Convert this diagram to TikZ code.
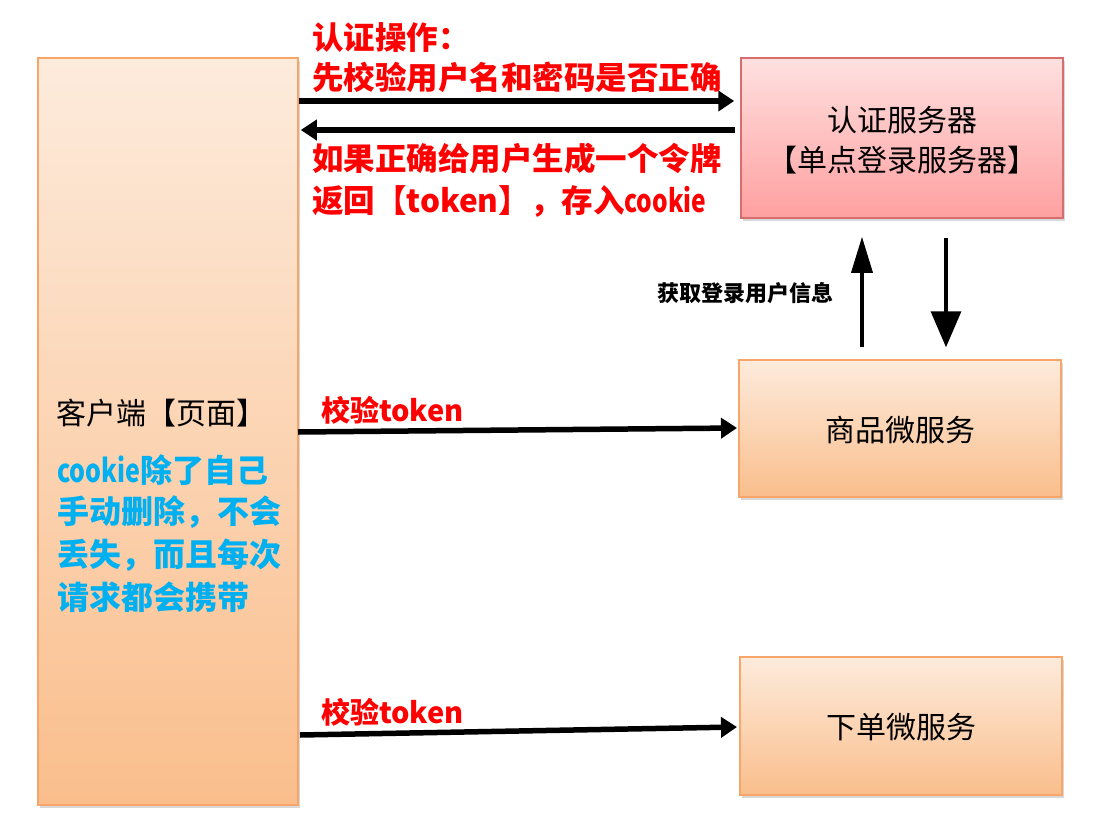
\documentclass[tikz,border=0pt]{standalone}
\usepackage{fontspec}
\usepackage{graphicx}
\setmainfont{Noto Sans CJK SC}
\newcommand\narrowtxt[1]{\scalebox{0.78}[1]{#1}}
\usetikzlibrary{arrows.meta,shadows}
\definecolor{obord}{RGB}{247,165,105}
\definecolor{otop}{RGB}{253,235,220}
\definecolor{obot}{RGB}{250,190,140}
\definecolor{pbord}{RGB}{215,110,110}
\definecolor{ptop}{RGB}{255,224,224}
\definecolor{pbot}{RGB}{255,160,160}
\definecolor{tred}{RGB}{255,0,0}
\definecolor{tblue}{RGB}{0,176,240}
\tikzset{
  shbox/.style={line width=1.5pt, inner sep=0pt,
    drop shadow={shadow xshift=2pt,shadow yshift=-3pt,opacity=0.3}},
  obox/.style={shbox, draw=obord, top color=otop, bottom color=obot},
  pbox/.style={shbox, draw=pbord, top color=ptop, bottom color=pbot},
  boxtxt/.style={font=\fontsize{30}{40}\selectfont, align=center, inner sep=0pt},
  redlbl/.style={font=\bfseries\fontsize{31.5}{31.5}\selectfont, text=tred, anchor=west, inner sep=0pt},
  bluelbl/.style={font=\bfseries\fontsize{32}{32}\selectfont, text=tblue, anchor=west, inner sep=0pt},
  harrow/.style={line width=5.5pt, -{Triangle[length=16pt,width=20pt]}},
  uparrow/.style={line width=3.5pt, -{Triangle[length=36pt,width=21pt]}},
  dnarrow/.style={line width=3.5pt, -{Triangle[length=36pt,width=30pt]}},
}
\begin{document}
\begin{tikzpicture}[x=1pt,y=-1pt]
\useasboundingbox[fill=white] (0,0) rectangle (1117,838);
% boxes
\node[obox, minimum width=260pt, minimum height=747pt] (client) at (168,431.5) {};
\node[pbox, minimum width=322pt, minimum height=160pt] (auth) at (902,138) {};
\node[obox, minimum width=322pt, minimum height=137pt] (prod) at (900,428.5) {};
\node[obox, minimum width=322pt, minimum height=138pt] (order) at (901,726) {};
% box texts
\node[boxtxt] (authtxt) at (902,140) {认证服务器\\【单点登录服务器】};
\node[boxtxt] (prodtxt) at (900,430) {商品微服务};
\node[boxtxt] (ordertxt) at (901,727) {下单微服务};
\node[font=\fontsize{30}{30}\selectfont, anchor=west, inner sep=0pt] (clienttxt) at (56,413) {客户端【页面】};
\node[bluelbl] (b1) at (57,470) {\narrowtxt{cookie}除了自己};
\node[bluelbl] (b2) at (57,512) {手动删除，不会};
\node[bluelbl] (b3) at (57,555) {丢失，而且每次};
\node[bluelbl] (b4) at (57,597) {请求都会携带};
% red labels
\node[redlbl] (r1) at (312,38) {认证操作：};
\node[redlbl] (r2) at (312,77) {先校验用户名和密码是否正确};
\node[redlbl] (r3) at (312,158) {如果正确给用户生成一个令牌};
\node[redlbl] (r4) at (312,201) {返回【token】，存入\narrowtxt{cookie}};
\node[redlbl, font=\bfseries\fontsize{29}{29}\selectfont] (r5) at (321,410) {校验token};
\node[redlbl, font=\bfseries\fontsize{29}{29}\selectfont] (r6) at (321,712) {校验token};
\node[font=\bfseries\fontsize{22}{22}\selectfont, anchor=west, inner sep=0pt] (info) at (657,293) {获取登录用户信息};
% coordinates
\coordinate (ya) at (0,101);
\coordinate (yb) at (0,130);
\coordinate (p1) at (298,432);
\coordinate (p2) at (737,428);
\coordinate (o1) at (300,735);
\coordinate (o2) at (737,727);
\coordinate (xu) at (862,0);
\coordinate (xd) at (946,0);
% connectors
\draw[harrow] (client.east |- ya) -- ([xshift=-6pt]auth.west |- ya);
\draw[harrow] ([xshift=-5pt]auth.west |- yb) -- ([xshift=2pt]client.east |- yb);
\draw[harrow] (p1) -- (p2);
\draw[harrow] (o1) -- (o2);
\draw[uparrow] ([yshift=12pt]prod.north -| xu) -- ([yshift=-18pt]auth.south -| xu);
\draw[dnarrow] ([yshift=-19pt]auth.south -| xd) -- ([yshift=12pt]prod.north -| xd);
\end{tikzpicture}
\end{document}
